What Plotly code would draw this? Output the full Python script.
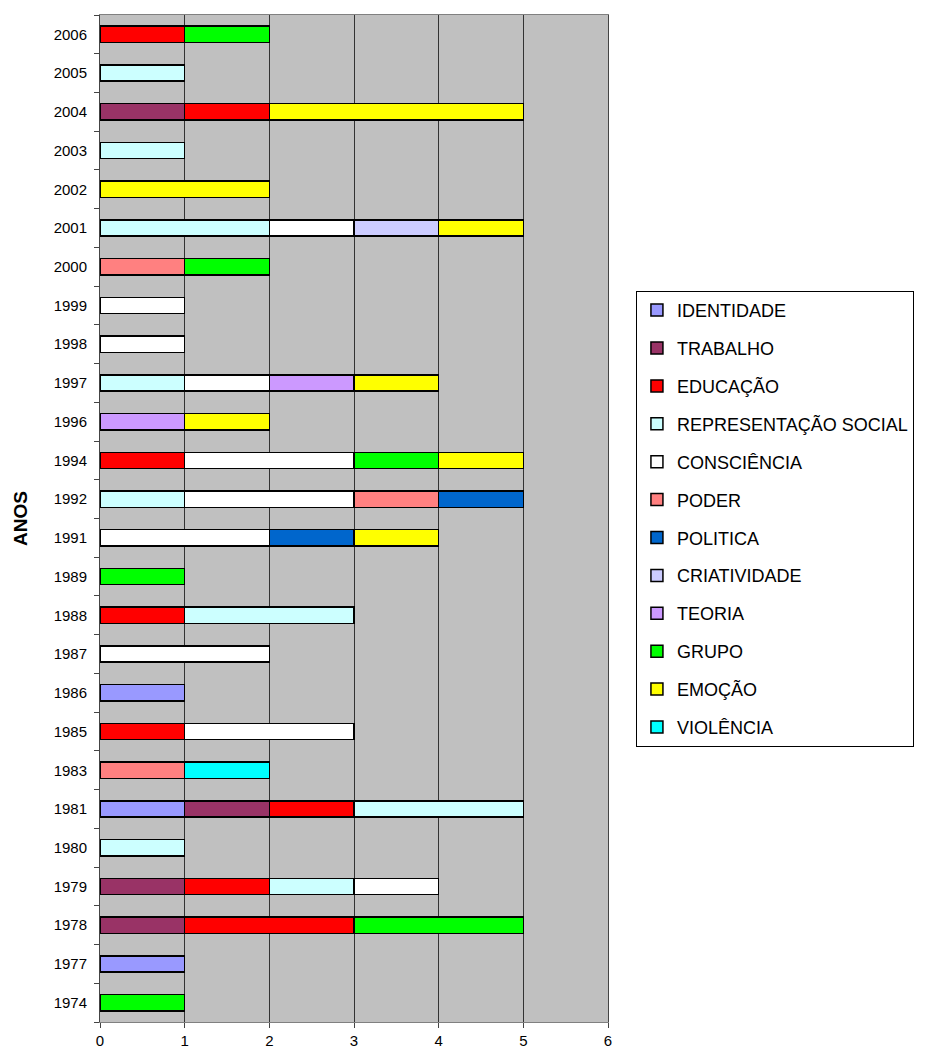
import plotly.graph_objects as go

YEARS = ["1974", "1977", "1978", "1979", "1980", "1981", "1983", "1985", "1986",
         "1987", "1988", "1989", "1991", "1992", "1994", "1996", "1997", "1998",
         "1999", "2000", "2001", "2002", "2003", "2004", "2005", "2006"]

SERIES = ["IDENTIDADE", "TRABALHO", "EDUCAÇÃO", "REPRESENTAÇÃO SOCIAL", "CONSCIÊNCIA",
          "PODER", "POLITICA", "CRIATIVIDADE", "TEORIA", "GRUPO", "EMOÇÃO", "VIOLÊNCIA"]

COLORS = ["#9999FF", "#993366", "#FF0000", "#CCFFFF", "#FFFFFF", "#FF8080",
          "#0066CC", "#CCCCFF", "#CC99FF", "#00FF00", "#FFFF00", "#00FFFF"]

# counts per year, one list per theme (same order as YEARS)
IDENTIDADE    = [0, 1, 0, 0, 0, 1, 0, 0, 1, 0, 0, 0, 0, 0, 0, 0, 0, 0, 0, 0, 0, 0, 0, 0, 0, 0]
TRABALHO      = [0, 0, 1, 1, 0, 1, 0, 0, 0, 0, 0, 0, 0, 0, 0, 0, 0, 0, 0, 0, 0, 0, 0, 1, 0, 0]
EDUCACAO      = [0, 0, 2, 1, 0, 1, 0, 1, 0, 0, 1, 0, 0, 0, 1, 0, 0, 0, 0, 0, 0, 0, 0, 1, 0, 1]
REPRESENTACAO = [0, 0, 0, 1, 1, 2, 0, 0, 0, 0, 2, 0, 0, 1, 0, 0, 1, 0, 0, 0, 2, 0, 1, 0, 1, 0]
CONSCIENCIA   = [0, 0, 0, 1, 0, 0, 0, 2, 0, 2, 0, 0, 2, 2, 2, 0, 1, 1, 1, 0, 1, 0, 0, 0, 0, 0]
PODER         = [0, 0, 0, 0, 0, 0, 1, 0, 0, 0, 0, 0, 0, 1, 0, 0, 0, 0, 0, 1, 0, 0, 0, 0, 0, 0]
POLITICA      = [0, 0, 0, 0, 0, 0, 0, 0, 0, 0, 0, 0, 1, 1, 0, 0, 0, 0, 0, 0, 0, 0, 0, 0, 0, 0]
CRIATIVIDADE  = [0, 0, 0, 0, 0, 0, 0, 0, 0, 0, 0, 0, 0, 0, 0, 0, 0, 0, 0, 0, 1, 0, 0, 0, 0, 0]
TEORIA        = [0, 0, 0, 0, 0, 0, 0, 0, 0, 0, 0, 0, 0, 0, 0, 1, 1, 0, 0, 0, 0, 0, 0, 0, 0, 0]
GRUPO         = [1, 0, 2, 0, 0, 0, 0, 0, 0, 0, 0, 1, 0, 0, 1, 0, 0, 0, 0, 1, 0, 0, 0, 0, 0, 1]
EMOCAO        = [0, 0, 0, 0, 0, 0, 0, 0, 0, 0, 0, 0, 1, 0, 1, 1, 1, 0, 0, 0, 1, 2, 0, 3, 0, 0]
VIOLENCIA     = [0, 0, 0, 0, 0, 0, 1, 0, 0, 0, 0, 0, 0, 0, 0, 0, 0, 0, 0, 0, 0, 0, 0, 0, 0, 0]

VALUES = [IDENTIDADE, TRABALHO, EDUCACAO, REPRESENTACAO, CONSCIENCIA, PODER,
          POLITICA, CRIATIVIDADE, TEORIA, GRUPO, EMOCAO, VIOLENCIA]

FONT = "Liberation Sans, Arial, sans-serif"

fig = go.Figure()
for name, vals, col in zip(SERIES, VALUES, COLORS):
    fig.add_trace(go.Bar(
        y=YEARS, x=vals, name=name, orientation="h",
        marker=dict(color=col, line=dict(color="black", width=1.5)),
        width=0.42, legendgroup=name,
    ))

# page body has an 8px margin, so the margins below are offset by that
fig.update_layout(
    barmode="stack",
    width=926, height=1050,
    margin=dict(l=92, r=326, t=7, b=36),
    paper_bgcolor="white",
    plot_bgcolor="#C0C0C0",
    font=dict(family=FONT, color="black"),
    showlegend=True,
    legend=dict(
        x=1.055, y=0.726, xanchor="left", yanchor="top",
        bordercolor="black", borderwidth=1, bgcolor="white",
        font=dict(size=18, family=FONT), tracegroupgap=11.5,
        traceorder="grouped", itemwidth=30,
    ),
    xaxis=dict(
        range=[0, 6], dtick=1, showgrid=True, gridcolor="#333333", gridwidth=1,
        ticks="outside", ticklen=5, tickcolor="#444444",
        showline=True, linecolor="#808080", linewidth=1, mirror=True,
        tickfont=dict(size=15), zeroline=False,
    ),
    yaxis=dict(
        type="category", categoryorder="array", categoryarray=YEARS,
        ticks="outside", ticklen=5, tickcolor="#444444", tickson="boundaries",
        showline=True, linecolor="#444444", linewidth=1, mirror=True,
        tickfont=dict(size=15), showgrid=False, ticklabelstandoff=9,
        title=dict(text="<b>ANOS</b>", font=dict(size=19), standoff=20),
    ),
)

fig.write_html("out.html")
